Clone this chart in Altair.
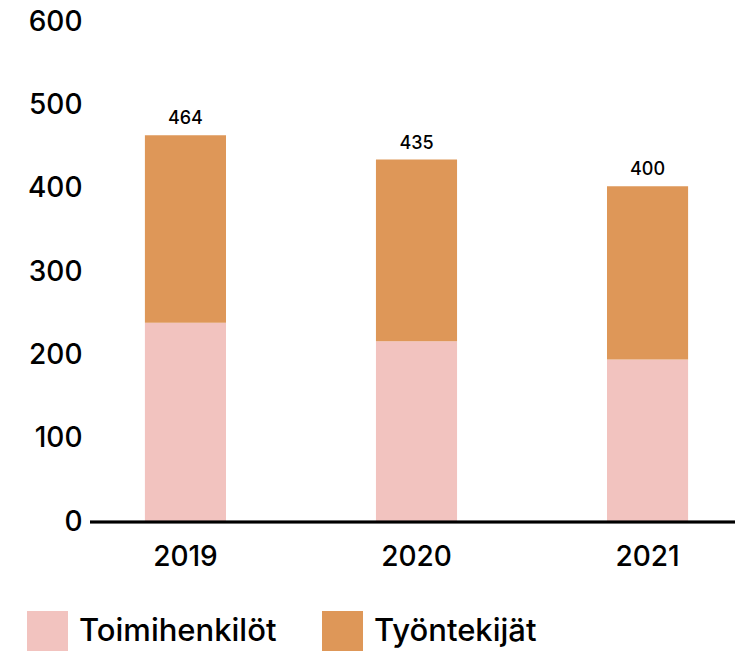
import altair as alt
import pandas as pd

years = ["2019", "2020", "2021"]
toimihenkilot = [239, 217, 195]
tyontekijat = [225, 218, 208]
total_labels = [464, 435, 400]
series = ["Toimihenkilöt", "Työntekijät"]
colors = ["#F2C3BF", "#DE9758"]

rows = []
for i, y in enumerate(years):
    rows.append({"year": y, "group": series[0], "value": toimihenkilot[i], "ord": 0})
    rows.append({"year": y, "group": series[1], "value": tyontekijat[i], "ord": 1})
df = pd.DataFrame(rows)
tot = pd.DataFrame({
    "year": years,
    "top": [a + b for a, b in zip(toimihenkilot, tyontekijat)],
    "label": [str(v) for v in total_labels],
})

FONT = "Inter"

x = alt.X("year:N", title=None, sort=years,
          scale=alt.Scale(paddingInner=0.649, paddingOuter=0.203),
          axis=alt.Axis(labelAngle=0, labelFontSize=28, labelFont=FONT, labelColor="black",
                        labelFontWeight=500, domain=False,
                        ticks=False, labelPadding=21))

bars = alt.Chart(df).mark_bar().encode(
    x=x,
    y=alt.Y("value:Q", stack="zero", title=None,
            scale=alt.Scale(domain=[0, 600], nice=False),
            axis=alt.Axis(values=[0, 100, 200, 300, 400, 500, 600], grid=False, domain=False,
                          ticks=False, labelFontSize=28, labelFont=FONT, labelColor="black",
                          labelFontWeight=500, labelPadding=16)),
    color=alt.Color("group:N", sort=series,
                    scale=alt.Scale(domain=series, range=colors),
                    legend=alt.Legend(title=None, orient="none", direction="horizontal",
                                      legendX=-71, legendY=589, symbolType="square",
                                      symbolSize=1681, symbolStrokeWidth=0, labelFontSize=31,
                                      labelFont=FONT, labelColor="black", labelFontWeight=500,
                                      labelLimit=0, columnPadding=45, labelOffset=11)),
    order=alt.Order("ord:Q"),
)

baseline = alt.Chart(tot).mark_rule(color="black", strokeWidth=2.5).encode(
    x=alt.value(-8), x2=alt.value(637), y=alt.datum(0)
)

labels = alt.Chart(tot).mark_text(baseline="alphabetic", dy=-11, fontSize=18, font=FONT,
                                  fontWeight=500, color="black").encode(
    x=alt.X("year:N", sort=years),
    y=alt.Y("top:Q"),
    text="label:N",
)

chart = (bars + baseline + labels).properties(
    width=637, height=500,
    autosize=alt.AutoSizeParams(type="none"),
    padding={"left": 98, "top": 22, "right": 0, "bottom": 129},
).configure_view(stroke=None)

chart.save("out.html", embed_options={"renderer": "svg", "actions": False})
